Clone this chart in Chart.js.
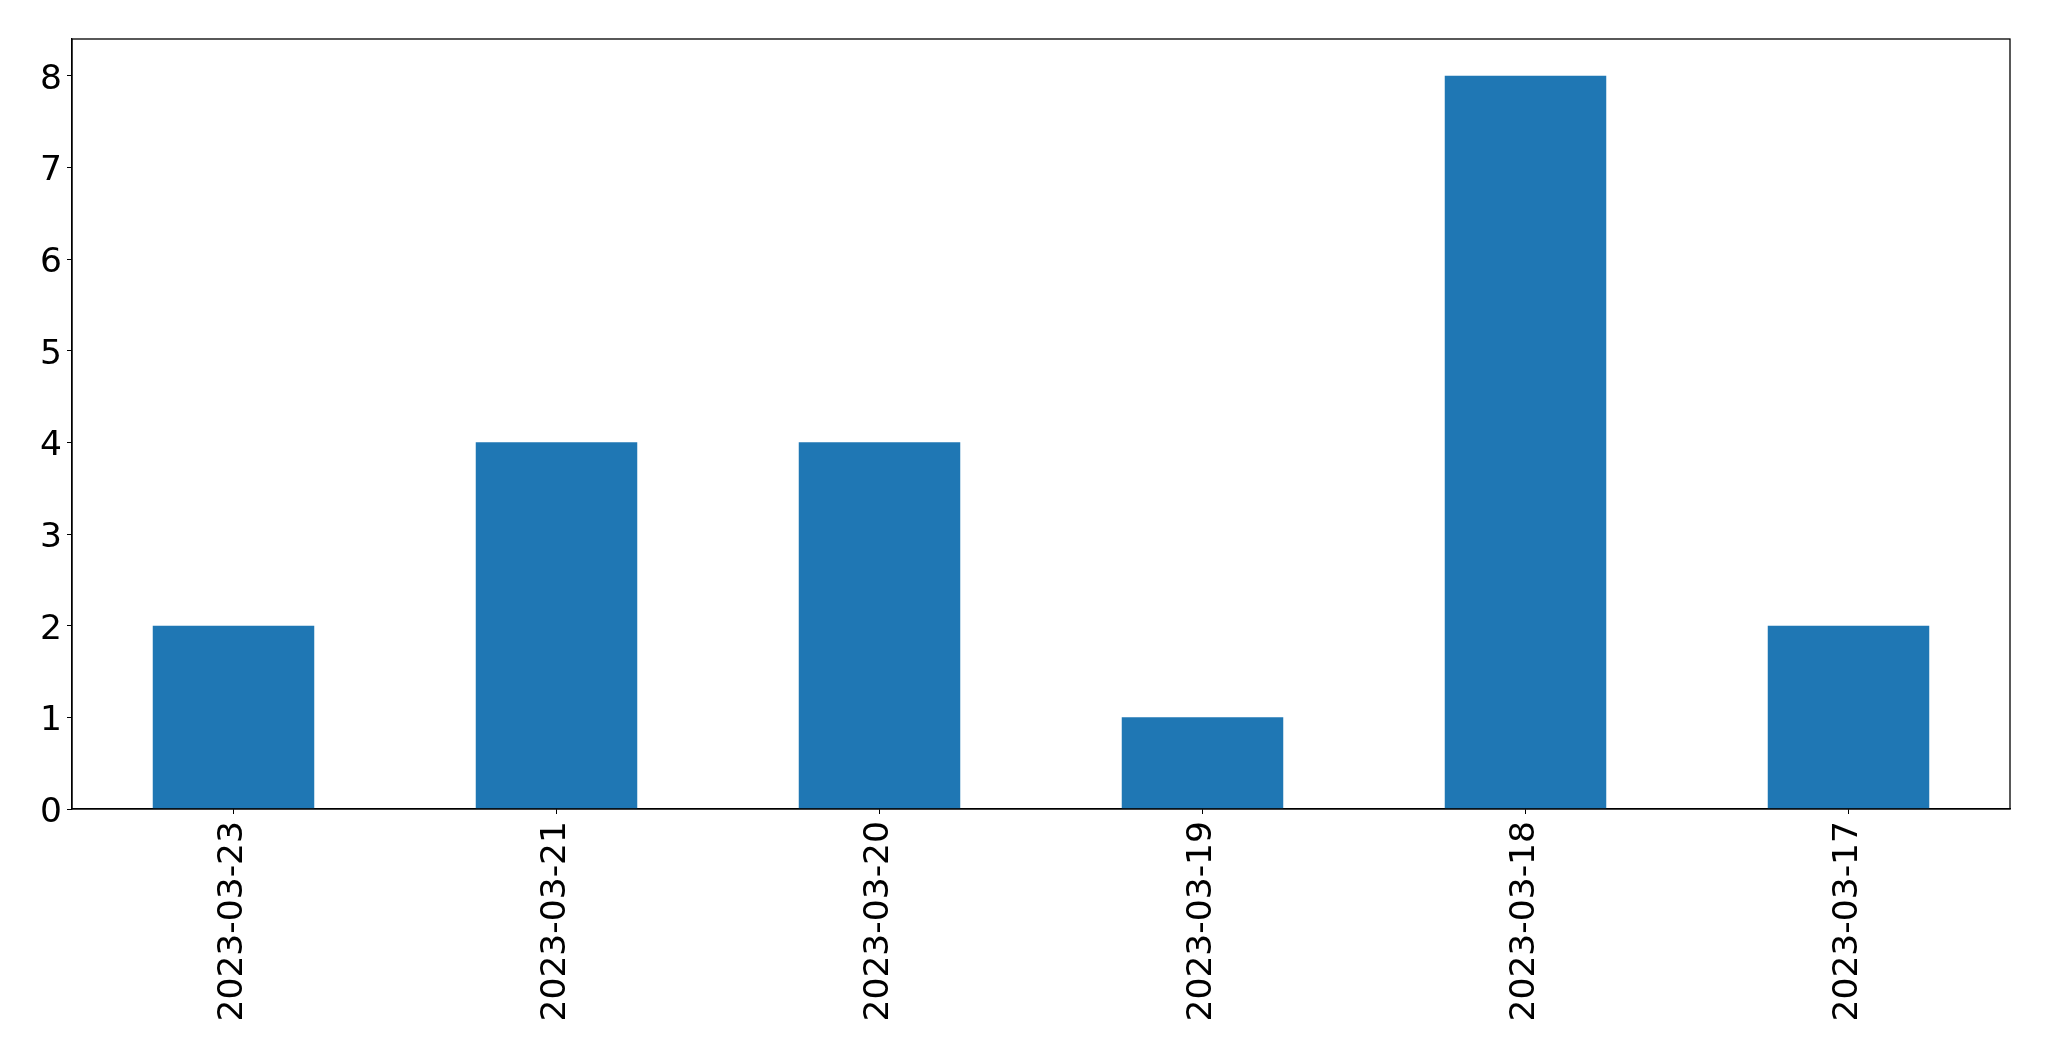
<!DOCTYPE html>
<html>
<head>
<meta charset="utf-8">
<script src="https://cdn.jsdelivr.net/npm/chart.js@4"></script>
<style>
  html, body { margin: 0; padding: 0; background: #fff; }
  #chart { display: block; }
</style>
</head>
<body>
<canvas id="chart" width="2049" height="1061"></canvas>
<script>
const dates = ['2023-03-23', '2023-03-21', '2023-03-20', '2023-03-19', '2023-03-18', '2023-03-17'];
const counts = [2, 4, 4, 1, 8, 2];
const yTicks = [0, 1, 2, 3, 4, 5, 6, 7, 8];

// matplotlib-style box around the plot area
const frame = {
    id: 'frame',
    afterDraw(chart) {
        const a = chart.chartArea;
        const ctx = chart.ctx;
        ctx.save();
        ctx.strokeStyle = '#000';
        ctx.lineWidth = 1.3;
        ctx.strokeRect(a.left, a.top, a.right - a.left, a.bottom - a.top);
        ctx.restore();
    }
};

const ctx = document.getElementById('chart').getContext('2d');
new Chart(ctx, {
    type: 'bar',
    data: {
        labels: dates,
        datasets: [{
            data: counts,
            backgroundColor: '#1f77b4',
            borderWidth: 0,
            categoryPercentage: 1.0,
            barPercentage: 0.5,
        }]
    },
    options: {
        responsive: false,
        animation: false,
        layout: { padding: { top: 39, right: 39, left: 0, bottom: 0 } },
        plugins: {
            legend: { display: false },
            tooltip: { enabled: false },
        },
        scales: {
            x: {
                offset: true,
                grid: { offset: false, drawOnChartArea: false, drawTicks: true, tickLength: 5, color: '#000' },
                border: { display: true, color: '#000', width: 1.3 },
                ticks: {
                    color: '#000',
                    font: { family: 'DejaVu Sans', size: 34.5 },
                    minRotation: 90,
                    maxRotation: 90,
                    padding: 7,
                    autoSkip: false,
                },
                afterFit(scale) { scale.height = 252; },
            },
            y: {
                min: 0,
                max: 8.4,
                grid: { drawOnChartArea: false, drawTicks: true, tickLength: 5, color: '#000' },
                border: { display: true, color: '#000', width: 1.3 },
                ticks: {
                    color: '#000',
                    font: { family: 'DejaVu Sans', size: 34.5 },
                    stepSize: 1,
                    includeBounds: false,
                    padding: 5,
                    labelOffset: 4,
                },
                afterBuildTicks(scale) {
                    scale.ticks = yTicks.map(v => ({ value: v }));
                },
                afterFit(scale) { scale.width = 72; },
            },
        },
    },
    plugins: [frame],
});
</script>
</body>
</html>
